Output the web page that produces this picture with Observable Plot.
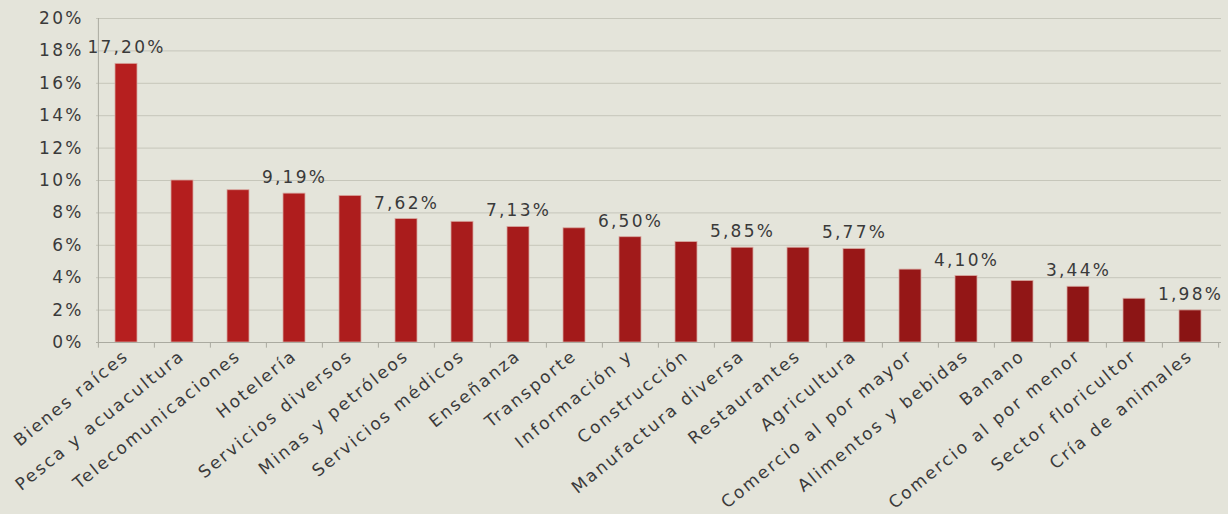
<!DOCTYPE html>
<html><head><meta charset="utf-8">
<script src="https://cdn.jsdelivr.net/npm/d3@7"></script>
<script src="https://cdn.jsdelivr.net/npm/@observablehq/plot@0.6"></script>
<style>
html,body{margin:0;padding:0;background:#e4e4da;overflow:hidden;}
</style></head><body><div id="chart"></div>
<script>
const sectors = ["Bienes raíces","Pesca y acuacultura","Telecomunicaciones","Hotelería","Servicios diversos","Minas y petróleos","Servicios médicos","Enseñanza","Transporte","Información y","Construcción","Manufactura diversa","Restaurantes","Agricultura","Comercio al por mayor","Alimentos y bebidas","Banano","Comercio al por menor","Sector floricultor","Cría de animales"];
const values = [17.20, 10.0, 9.4, 9.19, 9.05, 7.62, 7.45, 7.13, 7.05, 6.50, 6.2, 5.85, 5.85, 5.77, 4.5, 4.10, 3.8, 3.44, 2.7, 1.98];
const valueLabels = ["17,20%","","","9,19%","","7,62%","","7,13%","","6,50%","","5,85%","","5,77%","","4,10%","","3,44%","","1,98%"];
const yTicks = [0,2,4,6,8,10,12,14,16,18,20];

const W = 1228, H = 514, mL = 96, mR = 7, mT = 18, mB = 172;
const step = (W - mL - mR) / sectors.length;
const barColor = d3.interpolateRgb("#b61f1f", "#8a1414");
const data = sectors.map((s, i) => ({sector: s, value: values[i], label: valueLabels[i], color: barColor(i / (sectors.length - 1))}));

const chart = Plot.plot({
  width: W, height: H,
  marginLeft: mL, marginRight: mR, marginTop: mT, marginBottom: mB,
  style: {fontFamily: "'DejaVu Sans', Verdana, sans-serif", background: "#e4e4da", color: "#3a3a3a", letterSpacing: "2.2px"},
  x: {domain: sectors, paddingInner: 0.6, paddingOuter: 0.3, label: null},
  y: {domain: [0, 20], label: null},
  color: {type: "identity"},
  marks: [
    Plot.gridY(yTicks, {stroke: "#c6c6ba", strokeOpacity: 1}),
    Plot.barY(data, {x: "sector", y: "value", fill: "color", stroke: "#d8a8a0", strokeWidth: 0.8}),
    Plot.ruleY([0], {stroke: "#aaaaa0"}),
    Plot.ruleX(sectors, {x: d => d, dx: -step / 2, y1: -0.35, y2: 0, stroke: "#aaaaa0"}),
    Plot.ruleX([sectors[sectors.length - 1]], {x: d => d, dx: step / 2, y1: -0.35, y2: 0, stroke: "#aaaaa0"}),
    Plot.ruleX([sectors[0]], {x: d => d, dx: -step / 2, y1: 0, y2: 20, stroke: "#aaaaa0"}),
    Plot.axisY(yTicks, {tickFormat: d => d + "%", tickSize: 0, tickPadding: 13, fontSize: 17, fill: "#3a3a3a", label: null}),
    Plot.axisX({tickRotate: -39, tickSize: 0, tickPadding: 11, fontSize: 17, fill: "#3a3a3a", label: null}),
    Plot.text(data.filter(d => d.label), {x: "sector", y: "value", text: "label", dy: -16, fontSize: 17, fill: "#3a3a3a"})
  ]
});
document.getElementById("chart").appendChild(chart);
</script></body></html>
